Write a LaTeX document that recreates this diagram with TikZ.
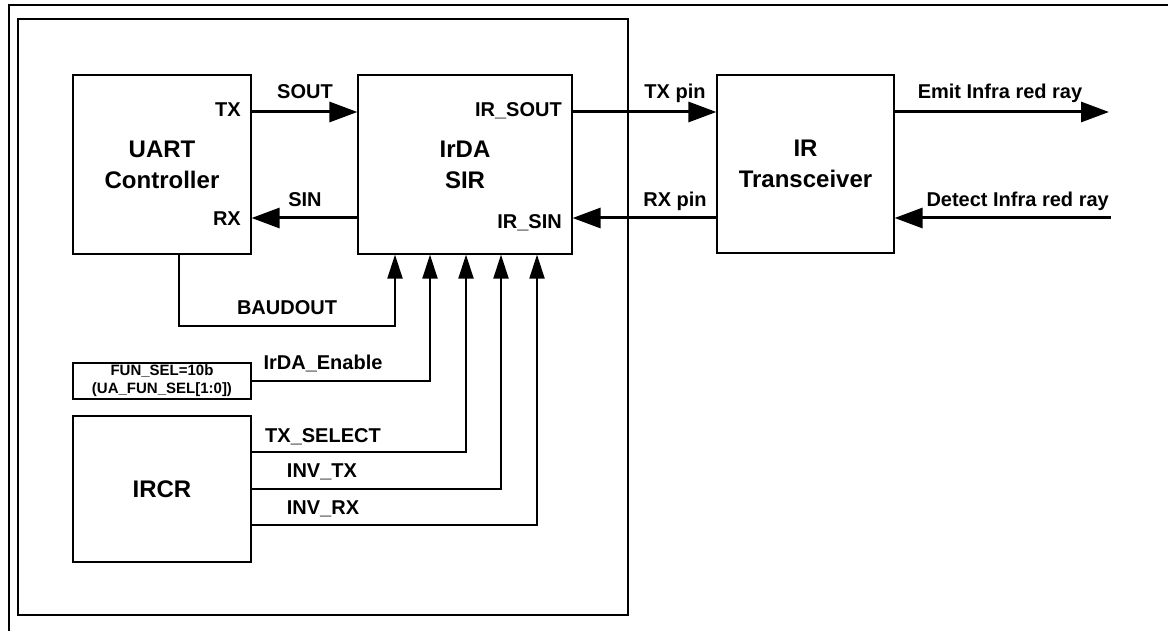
\documentclass[tikz,border=0pt]{standalone}
\usepackage{fontspec}
\setmainfont{Liberation Sans}
\usetikzlibrary{arrows.meta}
\begin{document}
\begin{tikzpicture}[x=1pt,y=-1pt,
  box/.style={draw, line width=1.2pt, inner sep=0pt, align=center},
  bigfont/.style={font=\fontsize{24}{31}\selectfont\bfseries},
  lbl/.style={font=\fontsize{20}{24}\selectfont\bfseries, inner sep=0pt},
  thickarrow/.style={line width=3pt, -{Triangle[length=28pt,width=20pt]}},
  thinarrow/.style={line width=2pt, -{Triangle[length=24pt,width=15pt]}},
  wire/.style={line width=2pt}]
\useasboundingbox (0,0) rectangle (1168,631);
\fill[white] (0,0) rectangle (1168,631);
% frames
\draw[line width=2.5pt] (9,631) -- (9,5) -- (1168,5);
\draw[line width=2pt] (18,19) rectangle (628,615);
% blocks
\node[box, bigfont, minimum width=178pt, minimum height=179pt] (uart) at (162,164.5) {UART\\Controller};
\node[box, bigfont, minimum width=214pt, minimum height=179pt] (irda) at (465,164.5) {IrDA\\SIR};
\node[box, bigfont, minimum width=177pt, minimum height=178pt] (irtr) at (805.5,164) {IR\\Transceiver};
\node[box, font=\fontsize{15}{18}\selectfont\bfseries, minimum width=178pt, minimum height=36pt] (funsel) at (162,381) {FUN\_SEL=10b\\(UA\_FUN\_SEL[1:0])};
\node[box, bigfont, minimum width=178pt, minimum height=146pt] (ircr) at (162,489) {IRCR};
% helper coordinates
\coordinate (ytx) at (0,112);
\coordinate (yrx) at (0,218);
\coordinate (c1) at (395,0);
\coordinate (c2) at (430,0);
\coordinate (c3) at (466,0);
\coordinate (c4) at (501,0);
\coordinate (c5) at (537,0);
\coordinate (cb) at (179,0);
\coordinate (ybaud) at (0,326);
\coordinate (ysel) at (0,452);
\coordinate (yitx) at (0,489);
\coordinate (yirx) at (0,525);
\coordinate (emitend) at (1109,112);
\coordinate (detsrc) at (1111,218);
% horizontal arrows
\draw[thickarrow] (uart.east |- ytx) -- (irda.west |- ytx);
\draw[thickarrow] (irda.west |- yrx) -- (uart.east |- yrx);
\draw[thickarrow] (irda.east |- ytx) -- (irtr.west |- ytx);
\draw[thickarrow] (irtr.west |- yrx) -- (irda.east |- yrx);
\draw[thickarrow] (irtr.east |- ytx) -- (emitend);
\draw[thickarrow] (detsrc) -- (irtr.east |- detsrc);
% vertical control arrows
\draw[thinarrow] (uart.south -| cb) -- (cb |- ybaud) -- (c1 |- ybaud) -- (irda.south -| c1);
\draw[thinarrow] (funsel.east) -- (funsel.east -| c2) -- (irda.south -| c2);
\draw[thinarrow] (ircr.east |- ysel) -- (c3 |- ysel) -- (irda.south -| c3);
\draw[thinarrow] (ircr.east |- yitx) -- (c4 |- yitx) -- (irda.south -| c4);
\draw[thinarrow] (ircr.east |- yirx) -- (c5 |- yirx) -- (irda.south -| c5);
% labels
\node[lbl, anchor=base east] (ltx) at (241,117) {TX};
\node[lbl, anchor=base] (lsout) at (305,99) {SOUT};
\node[lbl, anchor=base east] (lrx) at (241,226) {RX};
\node[lbl, anchor=base] (lsin) at (305,207) {SIN};
\node[lbl, anchor=base east] (lirsout) at (562,117) {IR\_SOUT};
\node[lbl, anchor=base east] (lirsin) at (562,229) {IR\_SIN};
\node[lbl, anchor=base] (ltxpin) at (675,99) {TX pin};
\node[lbl, anchor=base] (lrxpin) at (675,207) {RX pin};
\node[lbl, anchor=base] (lemit) at (1000,99) {Emit Infra red ray};
\node[lbl, anchor=base east] (ldetect) at (1109,207) {Detect Infra red ray};
\node[lbl, anchor=base] (lbaud) at (287,315) {BAUDOUT};
\node[lbl, anchor=base] (lirdaen) at (323,369) {IrDA\_Enable};
\node[lbl, anchor=base] (ltxsel) at (323,442) {TX\_SELECT};
\node[lbl, anchor=base] (linvtx) at (322,477) {INV\_TX};
\node[lbl, anchor=base] (linvrx) at (323,514) {INV\_RX};
\end{tikzpicture}
\end{document}
